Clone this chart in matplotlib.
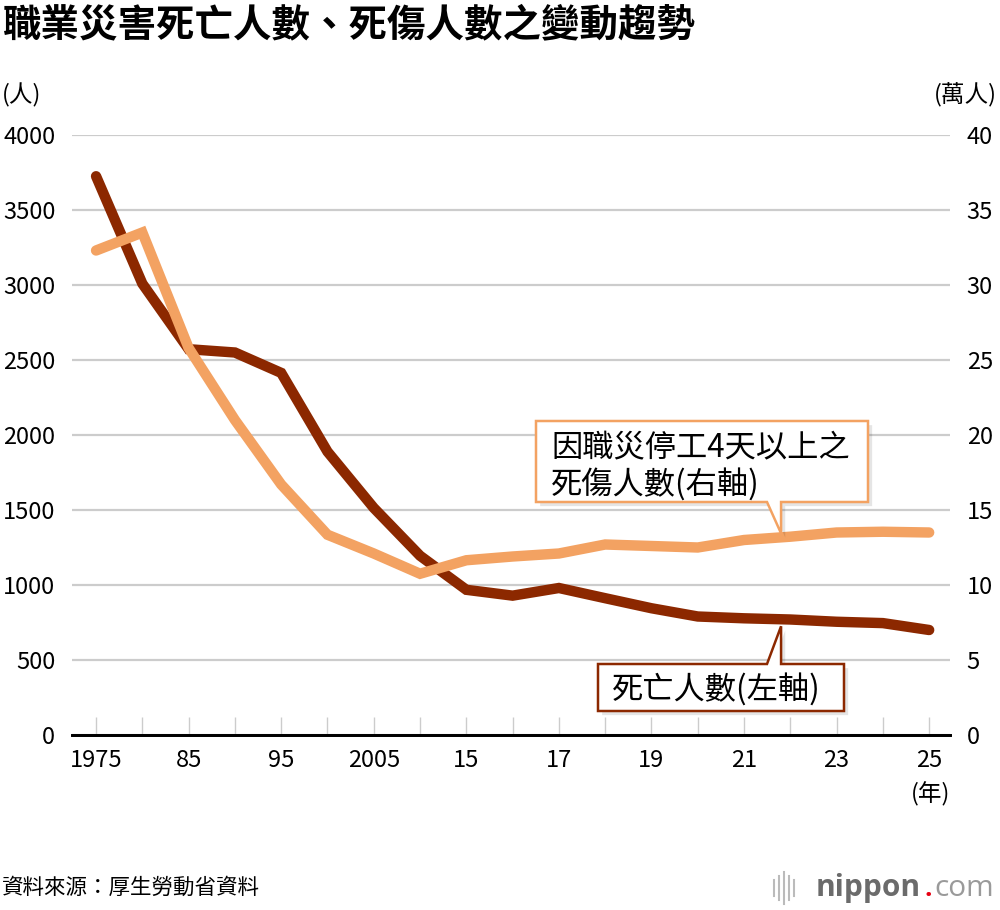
import numpy as np
import matplotlib
matplotlib.use("Agg")
import matplotlib.pyplot as plt
import matplotlib.patheffects as pe
from matplotlib.patches import Polygon
from matplotlib.lines import Line2D
from matplotlib.transforms import Affine2D

plt.rcParams['font.family'] = ['Noto Sans CJK TC', 'DejaVu Sans']

# data
years = [1975, 1980, 1985, 1990, 1995, 2000, 2005, 2010,
         2015, 2016, 2017, 2018, 2019, 2020, 2021, 2022, 2023, 2024, 2025]
deaths = [3725, 3009, 2572, 2550, 2414, 1889, 1514, 1195,
          968, 929, 980, 912, 845, 790, 778, 770, 755, 746, 700]
casualties = [32.3, 33.5, 25.8, 21.0, 16.7, 13.35, 12.1, 10.75,
              11.65, 11.9, 12.1, 12.7, 12.6, 12.5, 13.0, 13.22, 13.5, 13.55, 13.5]
xlabels = ["1975", "", "85", "", "95", "", "2005", "", "15", "",
           "17", "", "19", "", "21", "", "23", "", "25"]
left_ticks = [0, 500, 1000, 1500, 2000, 2500, 3000, 3500, 4000]
right_ticks = [0, 5, 10, 15, 20, 25, 30, 35, 40]

DARK = "#8c2800"
LIGHT = "#f3a262"
W, H = 1000, 910

fig = plt.figure(figsize=(W / 100, H / 100), dpi=100)
ax = fig.add_axes([72 / W, 1 - 735 / H, 878 / W, 600 / H])
ax2 = ax.twinx()

x = np.arange(len(years))

ax.plot(x, deaths, color=DARK, lw=7.5, solid_capstyle='round', solid_joinstyle='miter', zorder=3)
ax2.plot(x, casualties, color=LIGHT, lw=7.5, solid_capstyle='round', solid_joinstyle='miter', zorder=3)

ax.set_xlim(-0.52, 18.45)
ax.set_ylim(0, 4000)
ax2.set_ylim(0, 40)

ax.set_yticks(left_ticks)
ax.set_yticklabels([str(v) for v in left_ticks], fontsize=17)
ax2.set_yticks(right_ticks)
ax2.set_yticklabels([str(v) for v in right_ticks], fontsize=17)
ax.tick_params(axis='y', length=0, pad=12)
ax2.tick_params(axis='y', length=0, pad=12)

ax.set_xticks(x)
ax.set_xticklabels(xlabels, fontsize=17)
ax.tick_params(axis='x', direction='in', length=13, width=1, color='#cccccc', pad=10)

ax.grid(axis='y', color='#cccccc', lw=1.6)
ax.set_axisbelow(True)
for a in (ax, ax2):
    for s in ('top', 'left', 'right'):
        a.spines[s].set_visible(False)
    a.spines['bottom'].set_color('black')
    a.spines['bottom'].set_linewidth(2)
    a.patch.set_visible(False)

# pixel coordinates, origin at top-left
PX = Affine2D().scale(1 / W, -1 / H).translate(0, 1) + fig.transFigure

fig.text(3, 25, "職業災害死亡人數、死傷人數之變動趨勢", transform=PX,
         fontsize=27.7, fontweight='bold', va='center', ha='left')
fig.text(2, 95, "(人)", transform=PX, fontsize=17, va='center', ha='left')
fig.text(997, 95, "(萬人)", transform=PX, fontsize=17, va='center', ha='right')
fig.text(931, 794, "(年)", transform=PX, fontsize=17, va='center', ha='center')
fig.text(2, 888, "資料來源：厚生勞動省資料", transform=PX, fontsize=15.5, va='center', ha='left')


def tip_px(axis, xv, yv):
    dx, dy = axis.transData.transform((xv, yv))
    return dx, H - dy


def callout(box, base, tip, edge, on_top=False):
    l, t, r, b = box
    if on_top:
        verts = [(l, t), (base[0], t), tip, (base[1], t), (r, t), (r, b), (l, b)]
    else:
        verts = [(l, t), (r, t), (r, b), (base[1], b), tip, (base[0], b), (l, b)]
    poly = Polygon(verts, closed=True, transform=PX, facecolor='white',
                   edgecolor=edge, lw=1.8, joinstyle='miter', zorder=5)
    poly.set_path_effects([pe.SimplePatchShadow(offset=(3, -3), shadow_rgbFace='black', alpha=0.1),
                           pe.Normal()])
    fig.add_artist(poly)


fig.canvas.draw()
xp = 14.8
tx, ty = tip_px(ax2, xp, np.interp(xp, x, casualties))
callout((536, 421, 868, 502), (767, tx), (tx, ty - 4), LIGHT)
fig.text(551, 448, "因職災停工4天以上之", transform=PX, fontsize=22.5, va='center', ha='left', zorder=6)
fig.text(551, 484, "死傷人數(右軸)", transform=PX, fontsize=22.5, va='center', ha='left', zorder=6)

tx, ty = tip_px(ax, xp, np.interp(xp, x, deaths))
callout((598, 664, 844, 711), (767, tx), (tx, ty + 7), DARK, on_top=True)
fig.text(612, 689, "死亡人數(左軸)", transform=PX, fontsize=22.5, va='center', ha='left', zorder=6)

# nippon.com logo
bars = [(774, 8), (779, 12), (784, 16), (789, 12), (794, 8)]
for bx, bh in bars:
    fig.add_artist(Line2D([bx, bx], [888 - bh, 888 + bh], transform=PX, color='#bbbbbb', lw=1.5))
fig.text(921, 896, "nippon", transform=PX, fontsize=21.5, fontweight='bold', color='#6b6b6b',
         family='Open Sans', ha='right', va='baseline')
fig.text(928, 896, ".", transform=PX, fontsize=19, fontweight='bold', color='#e60012',
         family='Open Sans', ha='center', va='baseline')
fig.text(934, 896, "com", transform=PX, fontsize=21.5, color='#9a9a9a',
         family='Open Sans', ha='left', va='baseline')

fig.savefig("out.png", dpi=100)
